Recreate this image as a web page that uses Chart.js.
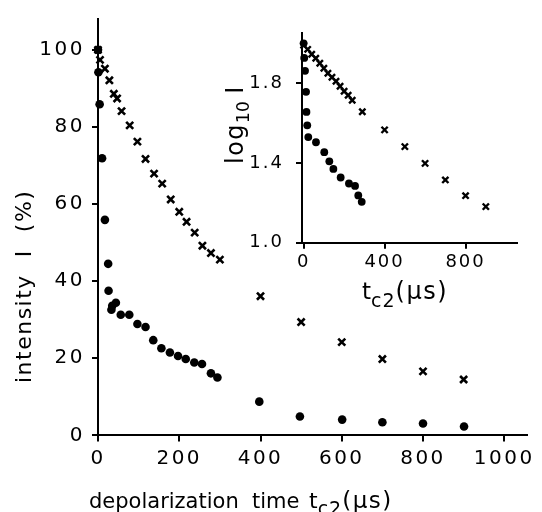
<!DOCTYPE html>
<html lang="en">
<head>
    <meta charset="UTF-8">
    <title>Depolarization decay</title>
    <script src="https://cdn.jsdelivr.net/npm/chart.js"></script>
    <style>
        body { margin: 0; padding: 0; background: #fff; }
        #wrap { position: relative; width: 542px; height: 512px; }
        #main { position: absolute; left: 0; top: 0; }
        #inset { position: absolute; left: 200px; top: 0; }
    </style>
</head>
<body>
    <div id="wrap">
        <canvas id="main" width="542" height="512"></canvas>
        <canvas id="inset" width="342" height="320"></canvas>
    </div>

    <script>
        // main plot: intensity (%) vs depolarization time (µs)
        const circleTimes = [0, 1, 4, 10, 17, 25, 26, 33, 35, 44, 56, 77, 97, 117, 136, 156, 177, 197, 216, 237, 256, 278, 294, 397, 497, 601, 700, 800, 901];
        const circleIntensity = [100, 94.2, 85.9, 71.9, 55.9, 44.5, 37.5, 32.6, 33.6, 34.4, 31.3, 31.3, 28.9, 28.1, 24.7, 22.6, 21.5, 20.6, 19.8, 18.9, 18.5, 16.1, 15.0, 8.75, 4.9, 4.1, 3.4, 3.1, 2.3];
        const crossTimes = [0, 5, 17, 28, 39, 47, 58, 78, 97, 117, 138, 158, 179, 200, 218, 238, 257, 278, 300, 400, 500, 600, 700, 800, 900];
        const crossIntensity = [100, 97.4, 95.1, 92.1, 88.6, 87.4, 84.1, 80.4, 76.2, 71.7, 67.9, 65.3, 61.2, 58.0, 55.4, 52.6, 49.2, 47.3, 45.6, 36.1, 29.4, 24.2, 19.8, 16.6, 14.5];
        const mainXTicks = [0, 200, 400, 600, 800, 1000];
        const mainYTicks = [0, 20, 40, 60, 80, 100];

        // inset: log10 I vs tc2
        const insetCircleTimes = [0, 3, 7, 12, 14, 18, 23, 61, 102, 127, 147, 183, 224, 254, 270, 287];
        const insetCircleLog = [2.0, 1.927, 1.862, 1.757, 1.656, 1.589, 1.530, 1.504, 1.454, 1.408, 1.370, 1.327, 1.297, 1.285, 1.237, 1.205];
        const insetCrossTimes = [0, 20, 40, 60, 80, 100, 120, 140, 160, 180, 200, 220, 240, 290, 400, 500, 600, 700, 800, 900];
        const insetCrossLog = [1.99, 1.97, 1.945, 1.925, 1.90, 1.875, 1.85, 1.83, 1.81, 1.785, 1.76, 1.74, 1.715, 1.657, 1.566, 1.482, 1.398, 1.315, 1.236, 1.181];
        const insetXTicks = [0, 400, 800];
        const insetYTicks = [1.0, 1.4, 1.8];

        const FONT = "'DejaVu Sans', sans-serif";

        function points(xs, ys) {
            return xs.map((x, i) => ({ x: x, y: ys[i] }));
        }

        // draws a run of text pieces one after another (for subscripts)
        function drawRun(ctx, x, y, parts) {
            parts.forEach(p => {
                ctx.font = p.size + "px " + FONT;
                ctx.letterSpacing = (p.spacing || 0) + "px";
                if (p.at !== undefined) x = p.at;
                ctx.fillText(p.text, x, y + (p.dy || 0));
                x += ctx.measureText(p.text).width;
            });
        }

        // tick labels in the original are widely spaced
        const spacingPlugin = (px) => ({
            id: "spacing",
            beforeDraw(chart) { chart.ctx.letterSpacing = px + "px"; }
        });

        const mainTitles = {
            id: "mainTitles",
            afterDraw(chart) {
                const ctx = chart.ctx;
                ctx.save();
                ctx.fillStyle = "#000";
                ctx.textAlign = "left";
                ctx.textBaseline = "alphabetic";
                drawRun(ctx, 89, 508, [
                    { text: "depolarization", size: 21 },
                    { text: "time", size: 21, at: 252 },
                    { text: "t", size: 22, at: 309 },
                    { text: "c2", size: 19, dy: 7, spacing: 1 },
                    { text: "(µs)", size: 23, spacing: 1.5 }
                ]);
                // y title, rotated
                ctx.translate(31, 383);
                ctx.rotate(-Math.PI / 2);
                drawRun(ctx, 0, 0, [{ text: "intensity  I  (%)", size: 22, spacing: 1.5 }]);
                ctx.restore();
            }
        };

        const insetTitles = {
            id: "insetTitles",
            afterDraw(chart) {
                const ctx = chart.ctx;
                ctx.save();
                ctx.fillStyle = "#000";
                ctx.textAlign = "left";
                ctx.textBaseline = "alphabetic";
                drawRun(ctx, 162, 299, [
                    { text: "t", size: 23 },
                    { text: "c2", size: 19, dy: 8, spacing: 1 },
                    { text: "(µs)", size: 24, spacing: 1.5 }
                ]);
                ctx.translate(43, 164);
                ctx.rotate(-Math.PI / 2);
                drawRun(ctx, 0, 0, [
                    { text: "log", size: 24, spacing: 1.5 },
                    { text: "10", size: 17, dy: 6 },
                    { text: " I", size: 24 }
                ]);
                ctx.restore();
            }
        };

        function axis(ticks, min, max, fit, size, pad, fmt) {
            return {
                type: "linear",
                min: min,
                max: max,
                afterBuildTicks: s => { s.ticks = ticks.map(v => ({ value: v })); },
                afterFit: fit,
                grid: { drawOnChartArea: false, drawTicks: true, tickLength: 6, color: "#000", lineWidth: 2 },
                border: { display: true, color: "#000", width: 2 },
                ticks: {
                    color: "#000",
                    font: { family: FONT, size: size },
                    padding: pad,
                    maxRotation: 0,
                    autoSkip: false,
                    callback: fmt || (v => v)
                }
            };
        }

        new Chart(document.getElementById("main").getContext("2d"), {
            type: "scatter",
            data: {
                datasets: [
                    {
                        data: points(circleTimes, circleIntensity),
                        pointStyle: "circle",
                        pointRadius: 4.3,
                        backgroundColor: "#000",
                        borderColor: "#000",
                        borderWidth: 0,
                        clip: false
                    },
                    {
                        data: points(crossTimes, crossIntensity),
                        pointStyle: "crossRot",
                        pointRadius: 5,
                        borderColor: "#000",
                        borderWidth: 2.6,
                        clip: false
                    }
                ]
            },
            options: {
                responsive: false,
                animation: false,
                devicePixelRatio: 1,
                layout: { padding: { top: 13, right: 15.4, left: 0, bottom: 0 } },
                plugins: { legend: { display: false }, tooltip: { enabled: false } },
                scales: {
                    x: axis(mainXTicks, 0, 1055, s => { s.height = 76.6; }, 20, 5),
                    y: axis(mainYTicks, 0, 108, s => { s.width = 98; }, 20, 7)
                }
            },
            plugins: [spacingPlugin(2.5), mainTitles]
        });

        new Chart(document.getElementById("inset").getContext("2d"), {
            type: "scatter",
            data: {
                datasets: [
                    {
                        data: points(insetCircleTimes, insetCircleLog),
                        pointStyle: "circle",
                        pointRadius: 3.9,
                        backgroundColor: "#000",
                        borderColor: "#000",
                        borderWidth: 0,
                        clip: false
                    },
                    {
                        data: points(insetCrossTimes, insetCrossLog),
                        pointStyle: "crossRot",
                        pointRadius: 4.4,
                        borderColor: "#000",
                        borderWidth: 2.4,
                        clip: false
                    }
                ]
            },
            options: {
                responsive: false,
                animation: false,
                devicePixelRatio: 1,
                layout: { padding: { top: 33, right: 25, left: 0, bottom: 0 } },
                plugins: { legend: { display: false }, tooltip: { enabled: false } },
                scales: {
                    x: axis(insetXTicks, -8, 1054, s => { s.height = 77.3; }, 18, 3),
                    y: axis(insetYTicks, 1.0, 2.052, s => { s.width = 102; }, 18, 12, v => v.toFixed(1))
                }
            },
            plugins: [spacingPlugin(2), insetTitles]
        });
    </script>
</body>
</html>
